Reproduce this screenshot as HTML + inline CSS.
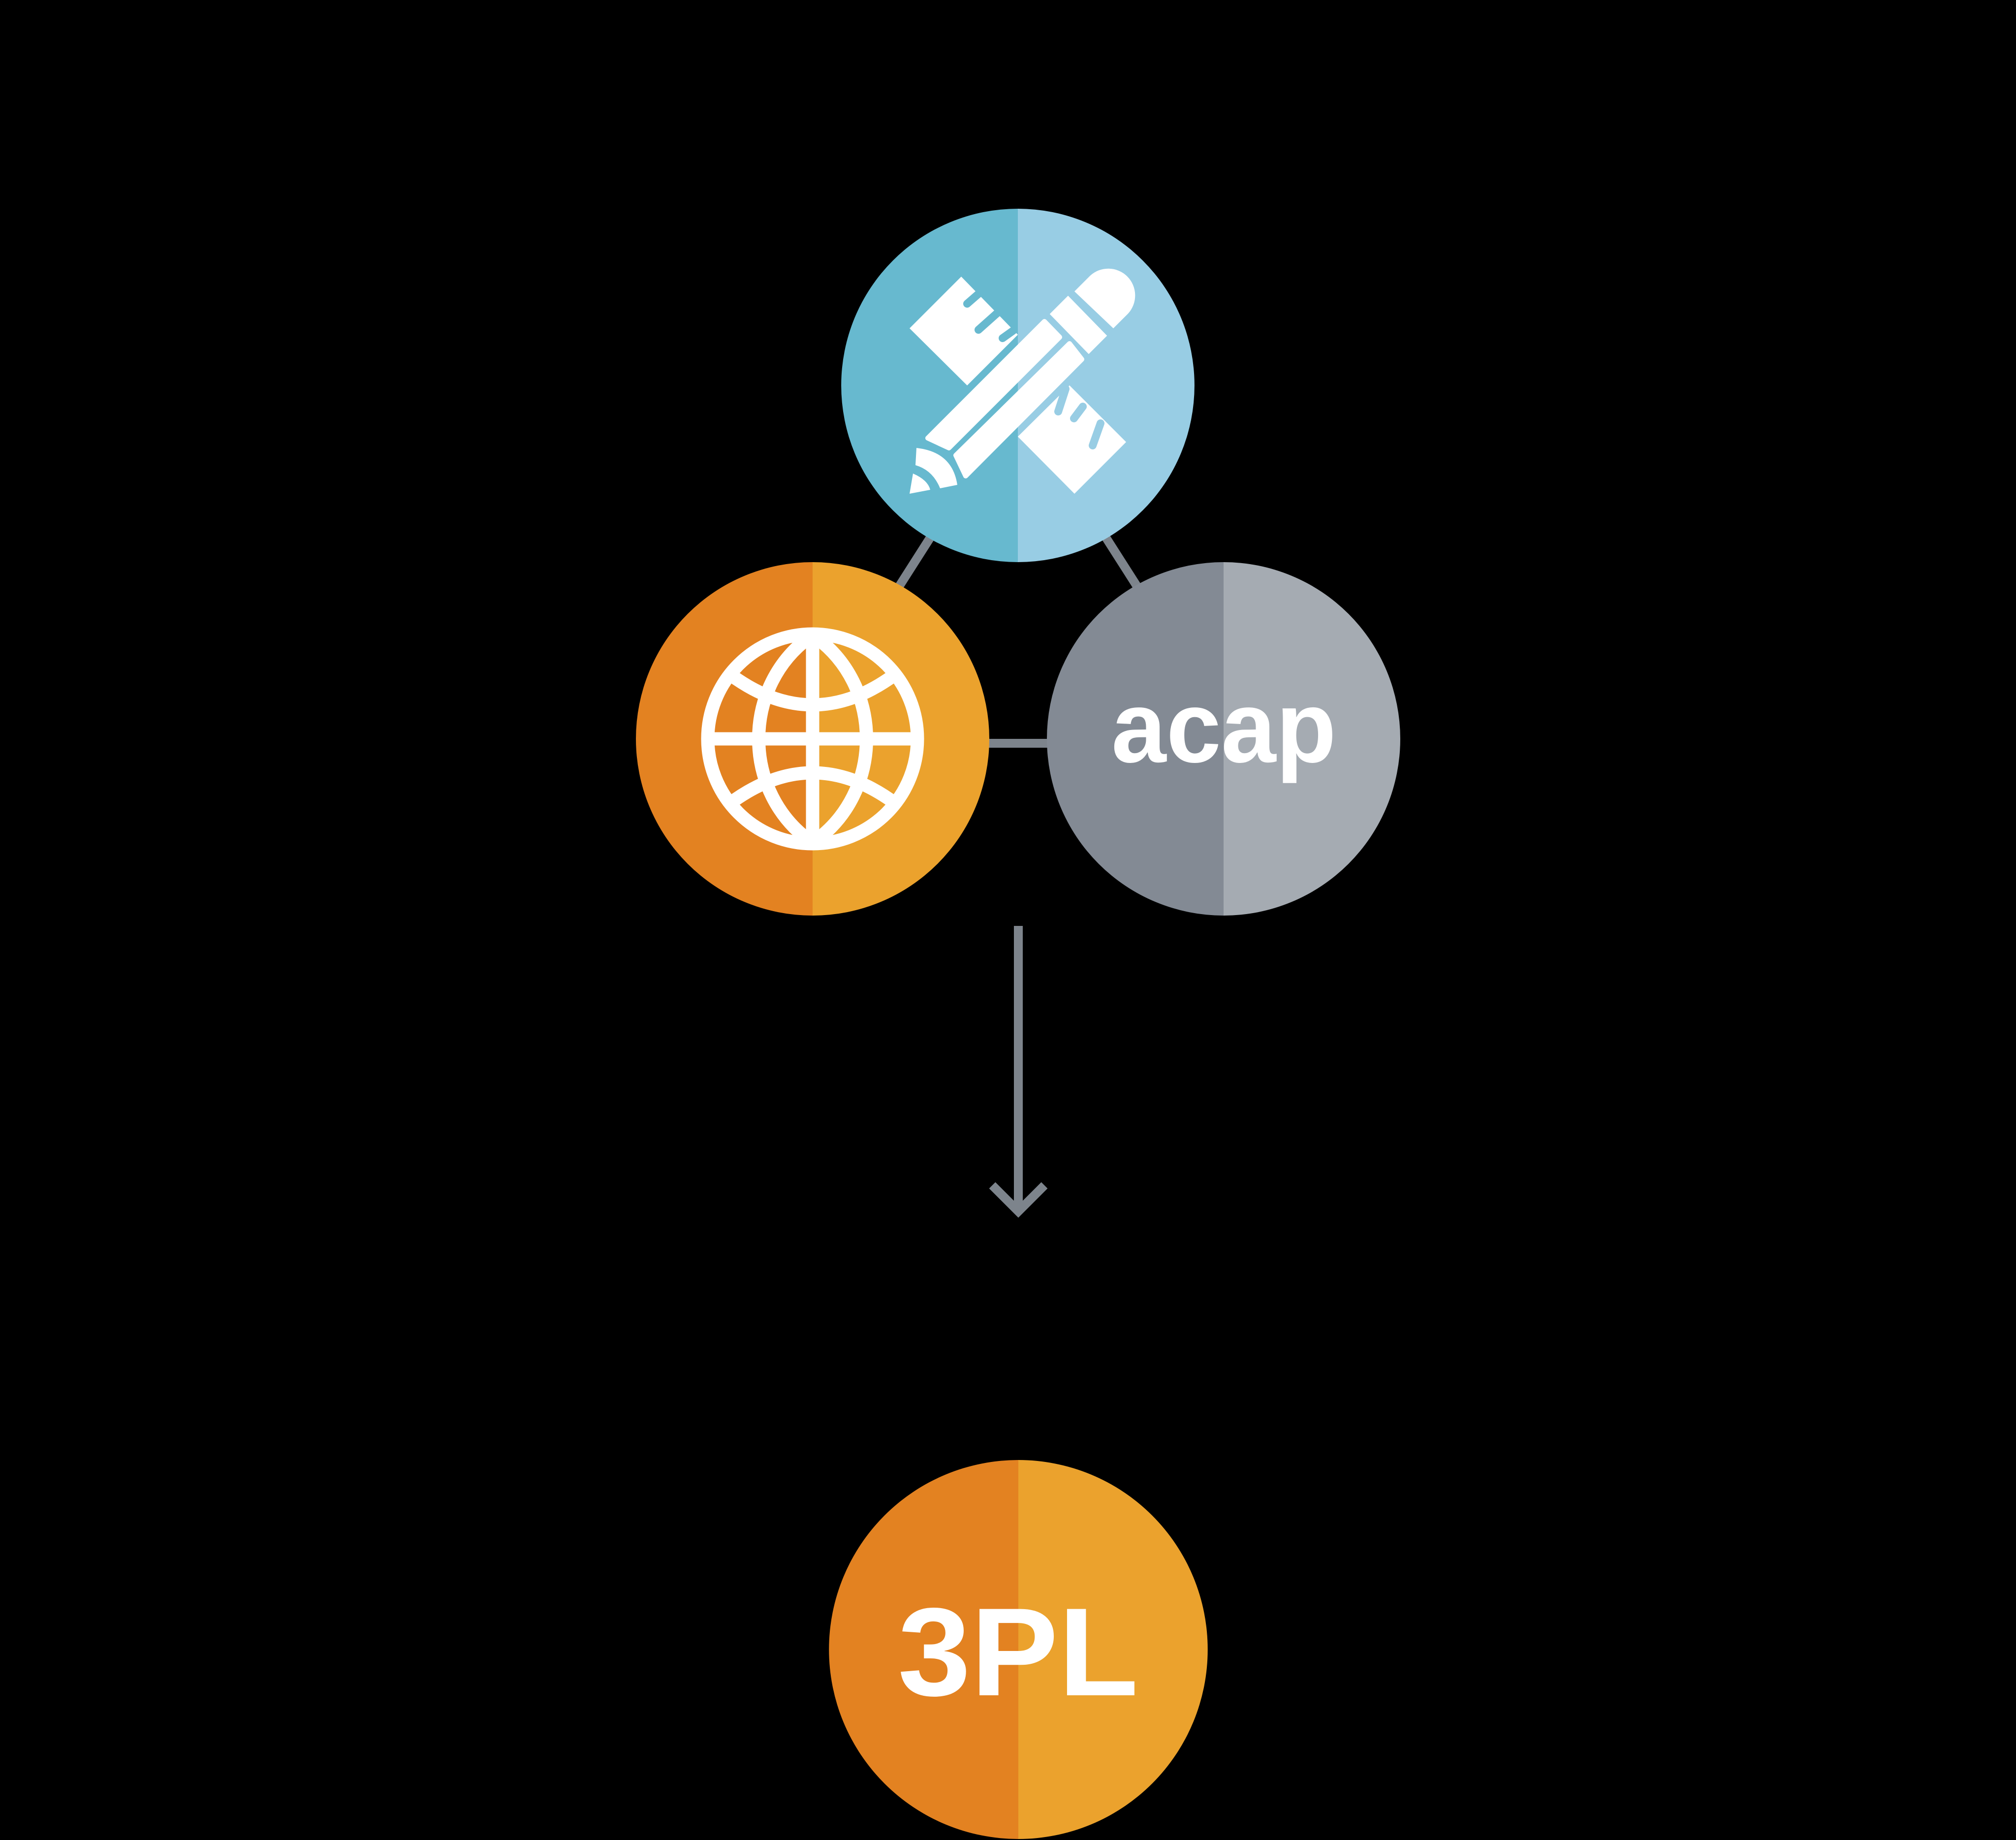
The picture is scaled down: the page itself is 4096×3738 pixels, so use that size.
<!DOCTYPE html>
<html><head><meta charset="utf-8"><style>html,body{margin:0;padding:0;background:#000;}svg{display:block}</style></head>
<body>
<svg width="4096" height="3738" viewBox="0 0 4096 3738" xmlns="http://www.w3.org/2000/svg">
<rect width="4096" height="3738" fill="#000"/>
<g stroke="#7d848c" stroke-width="18" fill="none">
<line x1="1892" y1="1089" x2="1825" y2="1194"/>
<line x1="2245" y1="1089" x2="2312" y2="1194"/>
<line x1="2000" y1="1510" x2="2135" y2="1510"/>
<line x1="2069" y1="1881" x2="2069" y2="2462"/>
<polyline points="2016,2408 2069,2461 2122,2408"/>
</g>
<path d="M2068,424 A359,359 0 0 0 2068,1142 Z" fill="#67b9cf"/>
<path d="M2068,424 A359,359 0 0 1 2068,1142 Z" fill="#98cde4"/>
<g fill="#fff">
<polygon points="1953,562 2068,680 1965,783 1848,667"/>
<polygon points="2068,887 2173,783 2288,898 2183,1003"/>
<polygon points="1885,890 2122,653 2153,685 1928,910" stroke="#fff" stroke-width="10" stroke-linejoin="round"/>
<polygon points="1942,925 2173,698 2198,730 1962,967" stroke="#fff" stroke-width="10" stroke-linejoin="round"/>
<polygon points="2137,638 2170,605 2245,682 2212,715" stroke="#fff" stroke-width="6"/>
<path d="M2183,592 L2215,560 A54.5,54.5 0 0 1 2292,637 L2262,667 Z"/>
<path d="M1862,910 Q1935,918 1945,985 L1910,992 Q1895,955 1860,945 Z"/>
<path d="M1855,962 Q1885,975 1890,995 L1848,1003 Z"/>
</g>
<g stroke="#67b9cf" stroke-width="16" stroke-linecap="round">
<line x1="1988" y1="597" x2="1965" y2="617"/>
<line x1="2025" y1="637" x2="1988" y2="670"/>
<line x1="2058" y1="672" x2="2037" y2="687"/>
</g>
<g stroke="#98cde4" stroke-width="16" stroke-linecap="round">
<line x1="2165" y1="790" x2="2150" y2="836"/>
<line x1="2200" y1="826" x2="2182" y2="850"/>
<line x1="2236" y1="860" x2="2220" y2="905"/>
</g>
<path d="M1651,1142 A359,359 0 0 0 1651,1860 Z" fill="#e38221"/>
<path d="M1651,1142 A359,359 0 0 1 1651,1860 Z" fill="#eba22d"/>
<g stroke="#fff" stroke-width="27" fill="none">
<circle cx="1651" cy="1501" r="213"/>
<line x1="1651" y1="1290" x2="1651" y2="1712"/>
<line x1="1440" y1="1501" x2="1862" y2="1501"/>
<path d="M1651,1290 C1505,1390 1505,1612 1651,1712"/>
<path d="M1651,1290 C1797,1390 1797,1612 1651,1712"/>
<path d="M1482,1369 Q1651,1495 1820,1369"/>
<path d="M1482,1633 Q1651,1507 1820,1633"/>
</g>
<path d="M2486,1142 A359,359 0 0 0 2486,1860 Z" fill="#838a94"/>
<path d="M2486,1142 A359,359 0 0 1 2486,1860 Z" fill="#a5abb2"/>
<text x="2258" y="1548" font-family="Liberation Sans, sans-serif" font-weight="bold" font-size="206" fill="#fff" textLength="457" lengthAdjust="spacingAndGlyphs">acap</text>
<path d="M2069,2966 A385,385 0 0 0 2069,3736 Z" fill="#e38221"/>
<path d="M2069,2966 A385,385 0 0 1 2069,3736 Z" fill="#eba22d"/>
<text x="1824" y="3444" font-family="Liberation Sans, sans-serif" font-weight="bold" font-size="255" fill="#fff" textLength="489" lengthAdjust="spacingAndGlyphs">3PL</text>
</svg>
</body></html>
